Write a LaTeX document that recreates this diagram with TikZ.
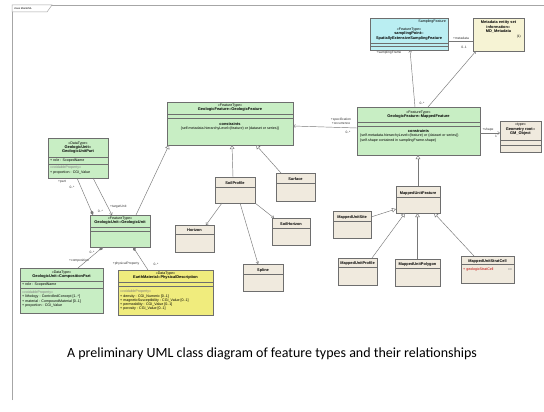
\documentclass[tikz,border=0pt]{standalone}
\usepackage{fontspec}
\setmainfont{Liberation Sans}
\newfontfamily\capfont{Carlito}
\usetikzlibrary{arrows.meta,shadows}
\definecolor{ugreen}{RGB}{200,238,196}
\definecolor{uyellow}{RGB}{240,236,125}
\definecolor{ubeige}{RGB}{240,234,222}
\definecolor{ucyan}{RGB}{186,238,242}
\definecolor{umeta}{RGB}{246,243,212}
\definecolor{boxline}{RGB}{110,110,110}
\definecolor{connline}{RGB}{120,120,120}
\newcommand\fa{\fontsize{3.6}{4.3}\selectfont}
\newcommand\fb{\fontsize{3.9}{4.6}\selectfont\bfseries}
\newcommand\fl{\fontsize{3.3}{3.9}\selectfont}
\newcommand\umlbox[6]{\node[umlbox, fill=#6, minimum width={#4pt-#2pt}, minimum height={#5pt-#3pt}] (#1) at ({(#2+#4)/2},{(#3+#5)/2}) {};}
\newcommand\sepl[2]{\draw[sepline] (#1.west |- 0,#2) -- (#1.east |- 0,#2);}
\tikzset{
 umlbox/.style={draw=boxline, line width=0.4pt, inner sep=0pt, outer sep=0pt,
   drop shadow={shadow xshift=0.8pt, shadow yshift=-0.8pt, fill=black, opacity=0.25}},
 sepline/.style={draw=boxline, line width=0.3pt},
 txt/.style={inner sep=0pt, align=center, font=\fa},
 attr/.style={inner sep=0pt, anchor=west, font=\fa},
 lbl/.style={inner sep=0pt, font=\fl, text=black!80},
 conn/.style={draw=connline, line width=0.45pt},
 gen/.style={conn, -{Triangle[open, length=4pt, width=4.5pt, fill=white]}},
 comp/.style={conn, {Diamond[length=5pt, width=3.2pt]}-},
 nav/.style={conn, -{Straight Barb[length=2pt, width=3pt]}},
}
\begin{document}
\begin{tikzpicture}[x=1pt,y=-1pt]
\useasboundingbox[fill=white] (0,0) rectangle (544,412);
% frame
\draw[draw=gray!70, line width=0.6pt] (12,400) -- (12,5) -- (544,5);
\draw[draw=gray!70, line width=0.5pt, fill=white] (12,5) -- (52,5) -- (47,12) -- (12,12) -- cycle;
\node[inner sep=0pt, anchor=west, font=\fontsize{2.6}{3}\selectfont] (frame-t) at (14,8.5) {class MainUML};

% ---------- boxes ----------
\umlbox{gup}{48}{138}{108}{178}{ugreen}
\umlbox{gu}{90}{215}{150}{247}{ugreen}
\umlbox{cp}{20}{268}{103}{313}{ugreen}
\umlbox{pd}{118}{270}{213}{315}{uyellow}
\umlbox{gf}{167}{102}{293}{145}{ugreen}
\umlbox{sp}{215}{177}{255}{203}{ubeige}
\umlbox{surf}{276}{173}{315}{201}{ubeige}
\umlbox{hor}{175}{225}{214}{252}{ubeige}
\umlbox{sh}{272}{218}{310}{245}{ubeige}
\umlbox{spl}{243}{264}{283}{291}{ubeige}
\umlbox{samp}{370}{18}{448}{50}{ucyan}
\umlbox{meta}{473}{18}{524}{51}{umeta}
\umlbox{mf}{357}{107}{480}{155}{ugreen}
\umlbox{gm}{500}{121}{541}{152}{ubeige}
\umlbox{muf}{396}{186}{440}{213}{ubeige}
\umlbox{mus}{333}{211}{371}{238}{ubeige}
\umlbox{mup}{338}{258}{377}{285}{ubeige}
\umlbox{mupg}{395}{259}{440}{286}{ubeige}
\umlbox{musc}{461}{256}{514}{283}{ubeige}

% ---------- box contents ----------
% GeologicUnitPart
\node[txt] (gup-h) at (78,147.5) {\fa «DataType»\\\fb GeologicUnit::\\\fb GeologicUnitPart};
\sepl{gup}{157}
\node[attr] (gup-a1) at (50,161) {+ role : ScopedName};
\sepl{gup}{164}
\node[attr, text=gray] (gup-a2) at (50,168) {«voidableProperty»};
\node[attr] (gup-a3) at (50,173) {+ proportion : CGI\_Value};
% GeologicUnit
\node[txt] (gu-h) at (120,221) {\fa «FeatureType»\\\fb GeologicUnit::GeologicUnit};
\sepl{gu}{227}
\sepl{gu}{231}
% CompositionPart
\node[txt] (cp-h) at (61.5,275) {\fa «DataType»\\\fb GeologicUnit::CompositionPart};
\sepl{cp}{281}
\node[attr] (cp-a1) at (22,285) {+ role : ScopedName};
\sepl{cp}{288}
\node[attr, text=gray] (cp-a2) at (22,292.5) {«voidableProperty»};
\node[attr] (cp-a3) at (22,297) {+ lithology : ControlledConcept [1..*]};
\node[attr] (cp-a4) at (22,301.5) {+ material : CompoundMaterial [0..1]};
\node[attr] (cp-a5) at (22,306) {+ proportion : CGI\_Value};
% PhysicalDescription
\node[txt] (pd-h) at (165.5,276) {\fa «DataType»\\\fb EarthMaterial::PhysicalDescription};
\sepl{pd}{282}
\sepl{pd}{286}
\node[attr, text=gray] (pd-a1) at (120,292) {«voidableProperty»};
\node[attr] (pd-a2) at (120,297) {+ density : CGI\_Numeric [0..1]};
\node[attr] (pd-a3) at (120,301) {+ magneticSusceptibility : CGI\_Value [0..1]};
\node[attr] (pd-a4) at (120,305) {+ permeability : CGI\_Value [0..1]};
\node[attr] (pd-a5) at (120,309) {+ porosity : CGI\_Value [0..1]};
% GeologicFeature
\node[txt] (gf-h) at (230,108) {\fa «FeatureType»\\\fb GeologicFeature::GeologicFeature};
\sepl{gf}{114}
\sepl{gf}{118}
\node[txt] (gf-c) at (230,124) {\fb constraints};
\node[txt] (gf-c1) at (230,129) {\{self.metadata.hierarchyLevel=(feature) or (dataset or series)\}};
% MappedFeature
\node[txt] (mf-h) at (418.5,115) {\fa «FeatureType»\\\fb GeologicFeature::MappedFeature};
\sepl{mf}{122}
\sepl{mf}{126}
\node[txt] (mf-c) at (418.5,131) {\fb constraints};
\node[attr] (mf-c1) at (360,136) {\{self.metadata.hierarchyLevel=(feature) or (dataset or series)\}};
\node[attr] (mf-c2) at (360,141) {\{self.shape contained in samplingFrame.shape\}};
% SamplingFeature
\node[inner sep=0pt, anchor=east, font=\fa] (samp-t) at (446,22) {SamplingFeature};
\node[txt] (samp-h) at (409,34) {\fa «FeatureType»\\\fb samplingPoint::\\\fb SpatiallyExtensiveSamplingFeature};
\sepl{samp}{43}
\sepl{samp}{46}
% Metadata
\node[txt] (meta-h) at (498.5,27) {\fb Metadata entity set\\\fb information::\\\fb MD\_Metadata};
\node[inner sep=0pt, anchor=east, font=\fl] (meta-t) at (521,37) {(1)};
% GM_Object
\node[txt] (gm-h) at (520.5,129.5) {\fa «type»\\\fb Geometry root::\\\fb GM\_Object};
\sepl{gm}{140}
\sepl{gm}{145}
% small classes
\node[txt] (sp-h) at (235,183) {\fb SoilProfile};  \sepl{sp}{187}
\node[txt] (surf-h) at (295.5,179) {\fb Surface};  \sepl{surf}{183}
\node[txt] (hor-h) at (194.5,230) {\fb Horizon};  \sepl{hor}{234}
\node[txt] (sh-h) at (291,224) {\fb SoilHorizon};  \sepl{sh}{228}
\node[txt] (spl-h) at (263,270) {\fb Spline};  \sepl{spl}{274}
\node[txt] (muf-h) at (418,193) {\fb MappedUnitFeature};  \sepl{muf}{197}
\node[txt] (mus-h) at (352,217) {\fb MappedUnitSite};  \sepl{mus}{221}
\node[txt] (mup-h) at (357.5,263) {\fb MappedUnitProfile};  \sepl{mup}{267}
\node[txt] (mupg-h) at (417.5,264) {\fb MappedUnitPolygon};  \sepl{mupg}{268}
\node[txt] (musc-h) at (487.5,261) {\fb MappedUnitStratCell};  \sepl{musc}{264}
\node[attr, text=red!75!black] (musc-a) at (463,269.5) {+ geologicStratCell};
\node[inner sep=0pt, anchor=east, font=\fa, text=gray] (musc-b) at (512,269.5) {xx};

% ---------- connectors ----------
\draw[comp] ([xshift=-27pt]gu.north) -- ([xshift=-1pt]gup.south);
\draw[nav] ([xshift=15pt]gup.south) -- ([xshift=-8pt]gu.north);
\draw[gen] ([xshift=16pt]gu.north) -- ([xshift=-61pt]gf.south);
\draw[comp] ([xshift=-17pt]gu.south) -- ([xshift=16.5pt]cp.north);
\draw[comp] ([xshift=13pt]gu.south) -- ([xshift=-17.5pt]pd.north);
\draw[nav] ([yshift=3pt]mf.west) -- ([yshift=-2.5pt]gf.east);
\draw[nav] ([xshift=-3.5pt]mf.north) -- ([xshift=1pt]samp.south);
\draw[nav] ([xshift=9.5pt]mf.north) -- ([xshift=3pt]meta.south west);
\draw[conn] ([yshift=-7pt]samp.east) -- ([yshift=-6.5pt]meta.west);
\draw[nav] ([yshift=-2pt]mf.east) -- ([yshift=3.5pt]gm.west);
\draw[gen] (muf.north) -- (muf.north |- mf.south);
\draw[gen] ([yshift=7.5pt]mus.east) -- ([yshift=-9.5pt]muf.west);
\draw[gen] ([xshift=14.5pt]mup.north) -- ([xshift=-13pt]muf.south);
\draw[gen] (mupg.north) -- (mupg.north |- muf.south);
\draw[gen] ([xshift=-13.5pt]musc.north) -- ([xshift=16pt]muf.south);
\draw[gen] ([xshift=-2pt]sp.north) -- ([xshift=2pt]gf.south);
\draw[gen] ([xshift=-14.5pt]surf.north) -- ([xshift=26pt]gf.south);
\draw[nav] ([xshift=-13pt]sp.south) -- ([xshift=11.5pt]hor.north);
\draw[nav] (sp.south east) -- ([xshift=2pt]sh.north west);
\draw[nav] ([xshift=5pt]sp.south) -- ([xshift=-5pt]spl.north);

% ---------- connector labels ----------
\node[lbl] (l1) at (62,182) {+part};
\node[lbl] (l2) at (72,187) {0..*};
\node[lbl, anchor=west] (l3) at (110,207) {+targetUnit};
\node[lbl, anchor=east] (l4) at (103,211) {0..*};
\node[lbl] (l5) at (92,252) {0..*};
\node[lbl] (l6) at (79,261) {+composition};
\node[lbl] (l7) at (126,264) {+physicalProperty};
\node[lbl] (l8) at (156,264) {0..*};
\node[lbl, align=center] (l9) at (341,121.5) {+specification\\+occurrence};
\node[lbl] (l10) at (348,132) {0..*};
\node[lbl] (l11) at (389,53) {+samplingFrame};
\node[lbl] (l12) at (422,103) {0..*};
\node[lbl] (l13) at (464,47) {0..1};
\node[lbl] (l14) at (461,38.5) {+metadata};
\node[lbl] (l15) at (488,130) {+shape};
\node[lbl] (l16) at (496,136) {1};

% caption
\node[anchor=base, inner sep=0pt, font=\capfont\fontsize{14}{16}\selectfont] (cap) at (272,357) {A preliminary UML class diagram of feature types and their relationships};
\end{tikzpicture}
\end{document}
